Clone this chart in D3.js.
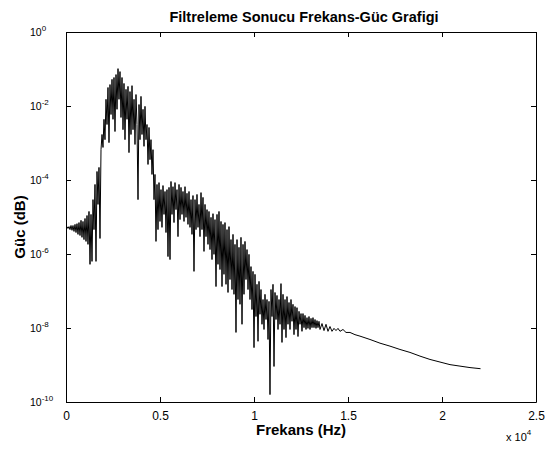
<!DOCTYPE html>
<html lang="en">
<head>
<meta charset="UTF-8">
<script src="https://d3js.org/d3.v7.min.js"></script>
<title>Filtreleme Sonucu Frekans-Güc Grafigi</title>
<style>
body { margin: 0; background: #fff; }
svg { font-family: Arial, "Liberation Sans", Helvetica, sans-serif; }
.tick line { stroke: #000; }
.domain { stroke: #000; }
</style>
</head>
<body>
<svg id="chart" width="546" height="452"></svg>
<script>
// frequency bins (Hz)
var freqHz = [0,53,106,160,213,266,319,372,426,479,532,585,638,691,745,798,851,904,957,1011,
  1064,1117,1170,1223,1277,1330,1383,1436,1489,1543,1596,1649,1702,1755,1808,1862,1915,1968,2021,2074,
  2128,2181,2234,2287,2340,2394,2447,2500,2553,2606,2660,2713,2766,2819,2872,2925,2979,3032,3085,3138,
  3191,3245,3298,3351,3404,3457,3511,3564,3617,3670,3723,3776,3830,3883,3936,3989,4042,4096,4149,4202,
  4255,4308,4362,4415,4468,4521,4574,4628,4681,4734,4787,4840,4893,4947,5000,5053,5106,5159,5213,5266,
  5319,5372,5425,5479,5532,5585,5638,5691,5745,5798,5851,5904,5957,6011,6064,6117,6170,6223,6277,6330,
  6383,6436,6489,6543,6596,6649,6702,6755,6808,6862,6915,6968,7021,7074,7128,7181,7234,7287,7340,7394,
  7447,7500,7553,7606,7660,7713,7766,7819,7872,7925,7979,8032,8085,8138,8191,8245,8298,8351,8404,8457,
  8511,8564,8617,8670,8723,8776,8830,8883,8936,8989,9042,9096,9149,9202,9255,9308,9362,9415,9468,9521,
  9574,9628,9681,9734,9787,9840,9893,9947,10000,10053,10106,10159,10213,10266,10319,10372,10425,10479,10532,10585,
  10638,10691,10745,10798,10851,10904,10957,11011,11064,11117,11170,11223,11277,11330,11383,11436,11489,11543,11596,11649,
  11702,11755,11808,11862,11915,11968,12021,12074,12128,12181,12234,12287,12340,12394,12447,12500,12553,12606,12660,12713,
  12766,12819,12872,12925,12979,13032,13085,13138,13191,13245,13298,13351,13404,13457,13511,
  13617,13723,13830,13936,14042,14149,14255,14362,14468,14574,
  14734,14893,15106,15372,15638,16170,16702,17234,17765,18297,18829,19361,19893,20425,20957,21489,22050]

// log10 of power at each bin
var logPower = [-5.28,-5.26,-5.31,-5.26,-5.34,-5.23,-5.36,-5.23,-5.39,-5.20,-5.42,-5.18,-5.47,-5.15,-5.50,-5.09,-5.55,-5.12,-5.61,-5.04,-5.66,-4.96,-5.74,
  -4.85,-6.28,-4.93,-6.20,-4.53,-5.34,-4.12,-6.20,-3.77,-4.66,-3.66,-5.58,
  -3.18,-2.77,-3.12,-2.36,-2.91,-1.82,-2.50,-1.50,-2.99,-1.42,-2.23,-1.28,-2.36,-1.23,-2.69,-1.15,-2.09,-0.99,-1.82,-1.07,
  -2.31,-1.23,-2.64,-1.39,-2.91,-1.55,-2.36,-1.47,-3.26,-1.61,-2.77,-1.45,-2.64,-1.82,-3.04,-1.69,-2.50,-4.53,-1.96,-2.91,
  -1.74,-2.77,-2.09,-3.09,-2.01,-2.91,-2.50,-3.58,-2.58,-3.45,-2.91,-3.85,-3.18,-4.53,-3.85,-5.66,-4.12,-5.34,-4.07,-5.12,
  -4.26,-5.28,-4.15,-4.93,-4.31,-5.42,-4.26,-6.07,-4.20,-6.15,-4.04,-4.93,-4.18,-5.15,-4.07,-4.80,-4.26,-5.53,-4.12,-5.07,
  -4.20,-4.93,-4.31,-5.12,-4.18,-5.01,-4.36,-5.20,-4.31,-5.28,-4.53,-5.47,-4.42,-6.47,-4.53,-5.34,-4.39,-5.28,-4.66,-5.53,
  -4.34,-5.34,-4.47,-5.93,-4.66,-5.53,-4.80,-5.74,-4.85,-5.88,-5.01,-6.15,-4.91,-6.01,-5.07,-6.88,-4.93,-6.28,-4.85,-6.42,
  -5.12,-6.88,-5.20,-6.55,-5.15,-6.82,-5.34,-7.04,-5.26,-6.69,-5.61,-6.96,-5.47,-7.09,-5.74,-8.12,-5.61,-7.23,-5.82,-7.36,
  -5.55,-7.90,-5.74,-7.09,-5.66,-6.69,-5.88,-6.96,-6.01,-7.23,-6.34,-7.50,-6.47,-8.53,-6.55,-7.69,-6.82,-8.36,-6.74,-7.63,
  -6.96,-7.90,-7.23,-8.04,-7.09,-7.77,-7.23,-8.31,-7.28,-9.80,-6.96,-7.69,-6.82,-9.04,-7.04,-7.77,-7.12,-8.04,-7.23,-7.90,
  -6.80,-8.39,-7.09,-8.04,-7.23,-8.26,-7.15,-7.90,-7.31,-8.04,-7.23,-7.82,-7.36,-8.18,-7.42,-8.04,-7.45,-8.23,-7.55,-7.90,
  -7.61,-8.09,-7.61,-7.99,-7.66,-8.04,-7.72,-8.01,-7.69,-8.04,-7.74,-7.99,-7.72,-7.99,-7.77,-8.01,-7.80,-7.99,-7.82,-8.04,
  -7.88,-8.07,-7.90,-8.09,-7.96,-8.09,-8.01,-8.07,-8.01,-8.09,
  -8.04,-8.12,-8.12,-8.18,-8.22,-8.31,-8.41,-8.49,-8.58,-8.66,-8.76,-8.85,-8.92,-8.99,-9.03,-9.07,-9.10]

var xTicks = [0, 5000, 10000, 15000, 20000, 25000]
var xTickLabels = ["0", "0.5", "1", "1.5", "2", "2.5"]
var yTicks = [1e0, 1e-2, 1e-4, 1e-6, 1e-8, 1e-10]
var yTickExp = ["0", "-2", "-4", "-6", "-8", "-10"]

var svg = d3.select("#chart"),
    margin = {top: 32, right: 10, bottom: 50, left: 66},
    W = +svg.attr("width"),
    H = +svg.attr("height")

var x = d3.scaleLinear().domain([0, 25000]).range([margin.left, W - margin.right])
var y = d3.scaleLog().domain([1e-10, 1]).range([H - margin.bottom, margin.top])

var n = Math.min(freqHz.length, logPower.length)
var data = []
for (let i = 0; i < n; i++) {
    data.push({f: freqHz[i], p: Math.pow(10, logPower[i])})
}

// axes box with inward ticks on all four sides
var xAxis = d3.axisBottom(x).tickValues(xTicks).tickSizeInner(-5).tickSizeOuter(0).tickPadding(9)
    .tickFormat((d, i) => xTickLabels[i])
svg.append("g").attr("transform", `translate(0,${H - margin.bottom})`).call(xAxis)
    .call(g => g.selectAll("text").attr("font-size", 12).attr("fill", "#000").attr("font-family", "Arial, 'Liberation Sans', sans-serif"))

svg.append("g").attr("transform", `translate(0,${margin.top})`)
    .call(d3.axisTop(x).tickValues(xTicks).tickSizeInner(-5).tickSizeOuter(0).tickFormat(""))

var yAxis = d3.axisLeft(y).tickValues(yTicks).tickSizeInner(-5).tickSizeOuter(0).tickFormat("")
svg.append("g").attr("transform", `translate(${margin.left},0)`).call(yAxis)

svg.append("g").attr("transform", `translate(${W - margin.right},0)`)
    .call(d3.axisRight(y).tickValues(yTicks).tickSizeInner(-5).tickSizeOuter(0).tickFormat(""))

// log tick labels 10^k
var yl = svg.append("g").selectAll("text")
    .data(yTicks)
    .enter().append("text")
    .attr("x", 30)
    .attr("y", d => y(d) + 4)
    .attr("font-size", 10.5)
yl.append("tspan").text("10")
yl.append("tspan").attr("dy", -5).attr("font-size", 8).text((d, i) => yTickExp[i])

svg.append("path")
    .datum(data)
    .attr("fill", "none")
    .attr("stroke", "#000")
    .attr("stroke-width", 1)
    .attr("d", d3.line().x(d => x(d.f)).y(d => y(d.p)))

svg.append("text")
    .attr("x", 304).attr("y", 22)
    .attr("text-anchor", "middle")
    .attr("font-weight", "bold").attr("font-size", 14.5)
    .text("Filtreleme Sonucu Frekans-Güc Grafigi")

svg.append("text")
    .attr("x", 301).attr("y", 435)
    .attr("text-anchor", "middle")
    .attr("font-weight", "bold").attr("font-size", 15)
    .text("Frekans (Hz)")

svg.append("text")
    .attr("transform", "translate(25,227) rotate(-90)")
    .attr("text-anchor", "middle")
    .attr("font-weight", "bold").attr("font-size", 15)
    .text("Güc (dB)")

var ex = svg.append("text").attr("x", 506).attr("y", 441).attr("font-size", 11)
ex.append("tspan").text("x 10")
ex.append("tspan").attr("dy", -6).attr("font-size", 8).text("4")
</script>
</body>
</html>
